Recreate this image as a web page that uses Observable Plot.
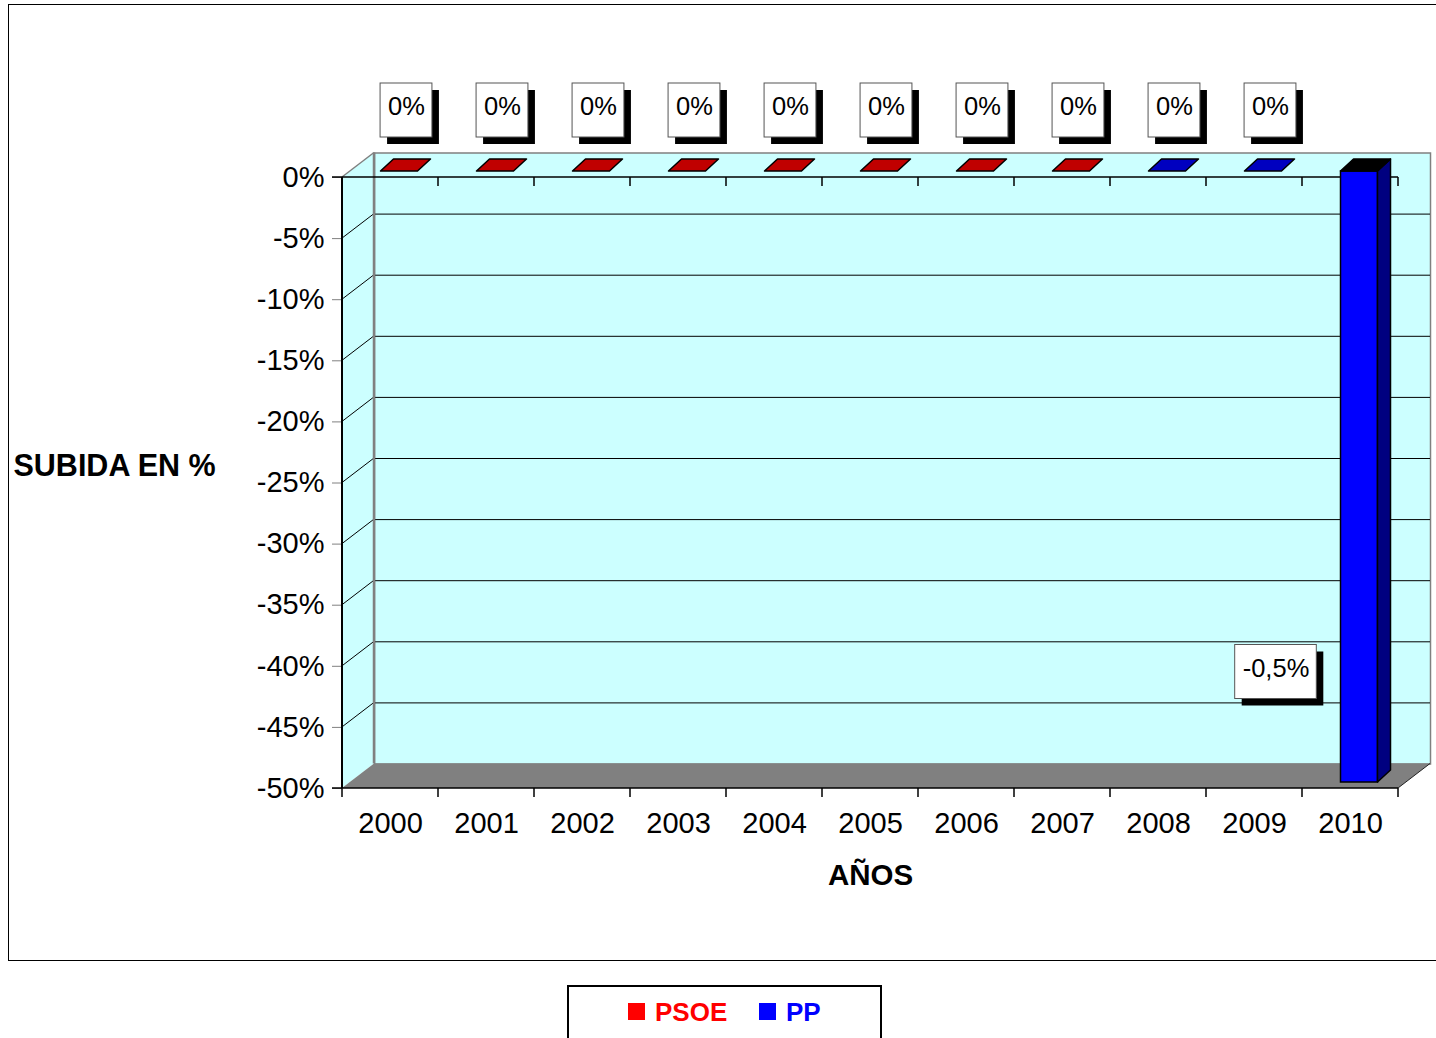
<!DOCTYPE html>
<html>
<head>
<meta charset="utf-8">
<script src="https://cdn.jsdelivr.net/npm/d3@7"></script>
<script src="https://cdn.jsdelivr.net/npm/@observablehq/plot@0.6"></script>
<style>
  body { margin: 0; background: #fff; font-family: "Liberation Sans", Arial, sans-serif; }
  #wrap { position: relative; width: 1436px; height: 1038px; overflow: hidden; background: #fff; }
  #chart { position: absolute; left: 0; top: 0; }
  #frame { position: absolute; left: 8px; top: 4px; width: 1440px; height: 955px; border: 1px solid #000; pointer-events: none; }
  #legend { position: absolute; left: 567px; top: 985px; width: 311px; height: 70px; border: 2px solid #000; background: #fff; }
  #legend .sw { position: absolute; width: 17px; height: 17px; top: 16px; }
  #legend .lb { position: absolute; top: 12px; font-size: 26px; font-weight: bold; line-height: 1; }
</style>
</head>
<body>
<div id="wrap">
  <div id="chart"></div>
  <div id="frame"></div>
  <div id="legend"></div>
</div>
<script>
// ---- data ----
const years   = ["2000","2001","2002","2003","2004","2005","2006","2007","2008","2009","2010"];
const values  = [0, 0, 0, 0, 0, 0, 0, 0, 0, 0, -0.5];
const labels  = ["0%","0%","0%","0%","0%","0%","0%","0%","0%","0%","-0,5%"];
const parties = ["PSOE","PSOE","PSOE","PSOE","PSOE","PSOE","PSOE","PSOE","PP","PP","PP"];
const yTicks  = [0, -0.05, -0.10, -0.15, -0.20, -0.25, -0.30, -0.35, -0.40, -0.45, -0.50];
const partyNames  = ["PSOE", "PP"];
const partyColors = ["#FF0000", "#0000FF"];
const partyTops   = ["#C00000", "#0000C0"];
const partySides  = ["#800000", "#000080"];
const yTitle = "SUBIDA EN %";
const xTitle = "AÑOS";

const rows = years.map((year, i) => ({year, value: values[i], label: labels[i], party: parties[i]}));

// ---- 3D styling constants ----
const WDX = 32, WDY = -24.5;          // wall depth
const BDX = 9, BDY = -6;              // bar front offset
const BDEPX = 13, BDEPY = -12;        // bar depth
const BAR_INSET = 29.5;
const LABEL_FONT = 25.5;
const ZERO_LABEL = {dx: 16, dy: -70.5};
const NEG_LABEL  = {dx: -74.5, dy: -120};
const FONT = '"Liberation Sans", Arial, sans-serif';

const pIdx = p => partyNames.indexOf(p);
const measureCtx = document.createElement("canvas").getContext("2d");
measureCtx.font = `${LABEL_FONT}px "Liberation Sans", Arial`;
const poly = pts => "M" + pts.map(p => p.join(",")).join("L") + "Z";

// walls and floor
function walls(index, scales, values, dims) {
  const {y} = scales;
  const g = d3.create("svg:g");
  const x0 = dims.marginLeft, x1 = dims.width - dims.marginRight;
  const yT = y(yTicks[0]), yB = y(yTicks[yTicks.length - 1]);
  g.append("path").attr("d", poly([[x0,yT],[x0+WDX,yT+WDY],[x0+WDX,yB+WDY],[x0,yB]])).attr("fill", "#CCFFFF");
  for (const t of yTicks.slice(1, -1)) {
    g.append("line").attr("x1", x0).attr("y1", y(t)).attr("x2", x0+WDX).attr("y2", y(t)+WDY)
      .attr("stroke", "#000").attr("stroke-width", 1);
  }
  g.append("line").attr("x1", x0).attr("y1", yT).attr("x2", x0+WDX).attr("y2", yT+WDY)
    .attr("stroke", "#808080").attr("stroke-width", 1.5);
  g.append("path").attr("d", poly([[x0,yB],[x1,yB],[x1+WDX,yB+WDY],[x0+WDX,yB+WDY]])).attr("fill", "#808080");
  g.append("line").attr("x1", x1).attr("y1", yB).attr("x2", x1+WDX).attr("y2", yB+WDY)
    .attr("stroke", "#222").attr("stroke-width", 1);
  g.append("line").attr("x1", x0+WDX).attr("y1", yT+WDY).attr("x2", x0+WDX).attr("y2", yB+WDY)
    .attr("stroke", "#808080").attr("stroke-width", 2.5);
  g.append("line").attr("x1", x0).attr("y1", yT).attr("x2", x0).attr("y2", yB)
    .attr("stroke", "#000").attr("stroke-width", 2);
  return g.node();
}

// category axis lines with boundary ticks
function axisLines(index, scales, values, dims) {
  const {x, y} = scales;
  const g = d3.create("svg:g").attr("stroke", "#000");
  const x0 = dims.marginLeft, x1 = dims.width - dims.marginRight;
  const yT = y(yTicks[0]), yB = y(yTicks[yTicks.length - 1]);
  const bounds = years.map(yr => x(yr)).concat([x1]);
  g.append("line").attr("x1", x0 - 10).attr("x2", x1).attr("y1", yT).attr("y2", yT).attr("stroke-width", 1.5);
  g.append("line").attr("x1", x0 - 10).attr("x2", x1).attr("y1", yB).attr("y2", yB).attr("stroke-width", 1.5);
  for (const b of bounds) {
    if (b > x0 + 1) g.append("line").attr("x1", b).attr("x2", b).attr("y1", yT).attr("y2", yT + 9).attr("stroke-width", 1.5);
    g.append("line").attr("x1", b).attr("x2", b).attr("y1", yB).attr("y2", yB + 9).attr("stroke-width", 1.5);
  }
  return g.node();
}

// top and side faces of the 3D bars
function barFaces(index, scales) {
  const {x, y} = scales;
  const bw = x.bandwidth();
  const g = d3.create("svg:g").attr("stroke", "#000").attr("stroke-width", 1.5).attr("stroke-linejoin", "round");
  for (const r of rows) {
    const xl = x(r.year) + BAR_INSET + BDX, xr = x(r.year) + bw - BAR_INSET + BDX;
    const yt = y(Math.max(0, r.value)) + BDY, yb = y(Math.min(0, r.value)) + BDY;
    const k = pIdx(r.party);
    if (r.value !== 0) {
      g.append("path").attr("d", poly([[xr,yt],[xr+BDEPX,yt+BDEPY],[xr+BDEPX,yb+BDEPY],[xr,yb]])).attr("fill", partySides[k]);
    }
    g.append("path").attr("d", poly([[xl,yt],[xr,yt],[xr+BDEPX,yt+BDEPY],[xl+BDEPX,yt+BDEPY]]))
      .attr("fill", r.value < 0 ? "#000" : partyTops[k]);
  }
  return g.node();
}

// boxes with drop shadow behind the data labels
function labelBoxes(index, scales) {
  const {x, y} = scales;
  const bw = x.bandwidth();
  const g = d3.create("svg:g");
  for (const r of rows) {
    const off = r.value < 0 ? NEG_LABEL : ZERO_LABEL;
    const cx = x(r.year) + bw / 2 + off.dx;
    const cy = y(r.value) + off.dy;
    const w = measureCtx.measureText(r.label).width + 15;
    g.append("rect").attr("x", cx - w/2 + 7).attr("y", cy - 23.5 + 7).attr("width", w).attr("height", 54).attr("fill", "#000");
    g.append("rect").attr("x", cx - w/2).attr("y", cy - 23.5).attr("width", w).attr("height", 54)
      .attr("fill", "#fff").attr("stroke", "#555").attr("stroke-width", 1);
  }
  return g.node();
}

const plot = Plot.plot({
  width: 1436,
  height: 960,
  marginLeft: 342,
  marginRight: 38,
  marginTop: 177,
  marginBottom: 172,
  style: {fontFamily: FONT, fontSize: "29px", background: "transparent", overflow: "visible", color: "#000"},
  x: {type: "band", domain: years, padding: 0, tickSize: 0, tickPadding: 24, label: null},
  y: {domain: [yTicks[yTicks.length - 1], yTicks[0]], ticks: yTicks, tickSize: 10, tickPadding: 8, label: null,
      tickFormat: d => `${Math.round(d * 100)}%`},
  color: {domain: partyNames, range: partyColors},
  marks: [
    Plot.frame({fill: "#CCFFFF", stroke: "#808080", strokeWidth: 1.5, dx: WDX, dy: WDY}),
    Plot.ruleY(yTicks.slice(1, -1), {stroke: "#000", strokeWidth: 1, dx: WDX, dy: WDY}),
    walls,
    axisLines,
    Plot.barY(rows.filter(d => d.value !== 0), {x: "year", y: "value", fill: "party", stroke: "#000", strokeWidth: 1.5,
      insetLeft: BAR_INSET, insetRight: BAR_INSET, dx: BDX, dy: BDY}),
    barFaces,
    labelBoxes,
    Plot.text(rows.filter(d => d.value === 0), {x: "year", y: "value", text: "label", fontSize: LABEL_FONT,
      dx: ZERO_LABEL.dx, dy: ZERO_LABEL.dy, fill: "#000"}),
    Plot.text(rows.filter(d => d.value < 0), {x: "year", y: "value", text: "label", fontSize: LABEL_FONT,
      dx: NEG_LABEL.dx, dy: NEG_LABEL.dy, fill: "#000"}),
    Plot.text([yTitle], {frameAnchor: "left", textAnchor: "start", dx: -329, dy: -17, fontSize: 30.5, fontWeight: "bold", fill: "#000"}),
    Plot.text([xTitle], {frameAnchor: "bottom", dy: 96, fontSize: 29.5, fontWeight: "bold", fill: "#000"})
  ]
});

d3.select(plot).selectAll('[aria-label^="y-axis"] line, [aria-label^="y-axis"] path').attr("stroke", "#808080");
document.getElementById("chart").appendChild(plot);

// legend
const legend = d3.select("#legend");
const legendPos = [{sw: 59, lb: 86}, {sw: 190, lb: 217}];
partyNames.forEach((p, i) => {
  legend.append("div").attr("class", "sw").style("left", legendPos[i].sw + "px").style("background", partyColors[i]);
  legend.append("div").attr("class", "lb").style("left", legendPos[i].lb + "px").style("color", partyColors[i]).text(p);
});
</script>
</body>
</html>
